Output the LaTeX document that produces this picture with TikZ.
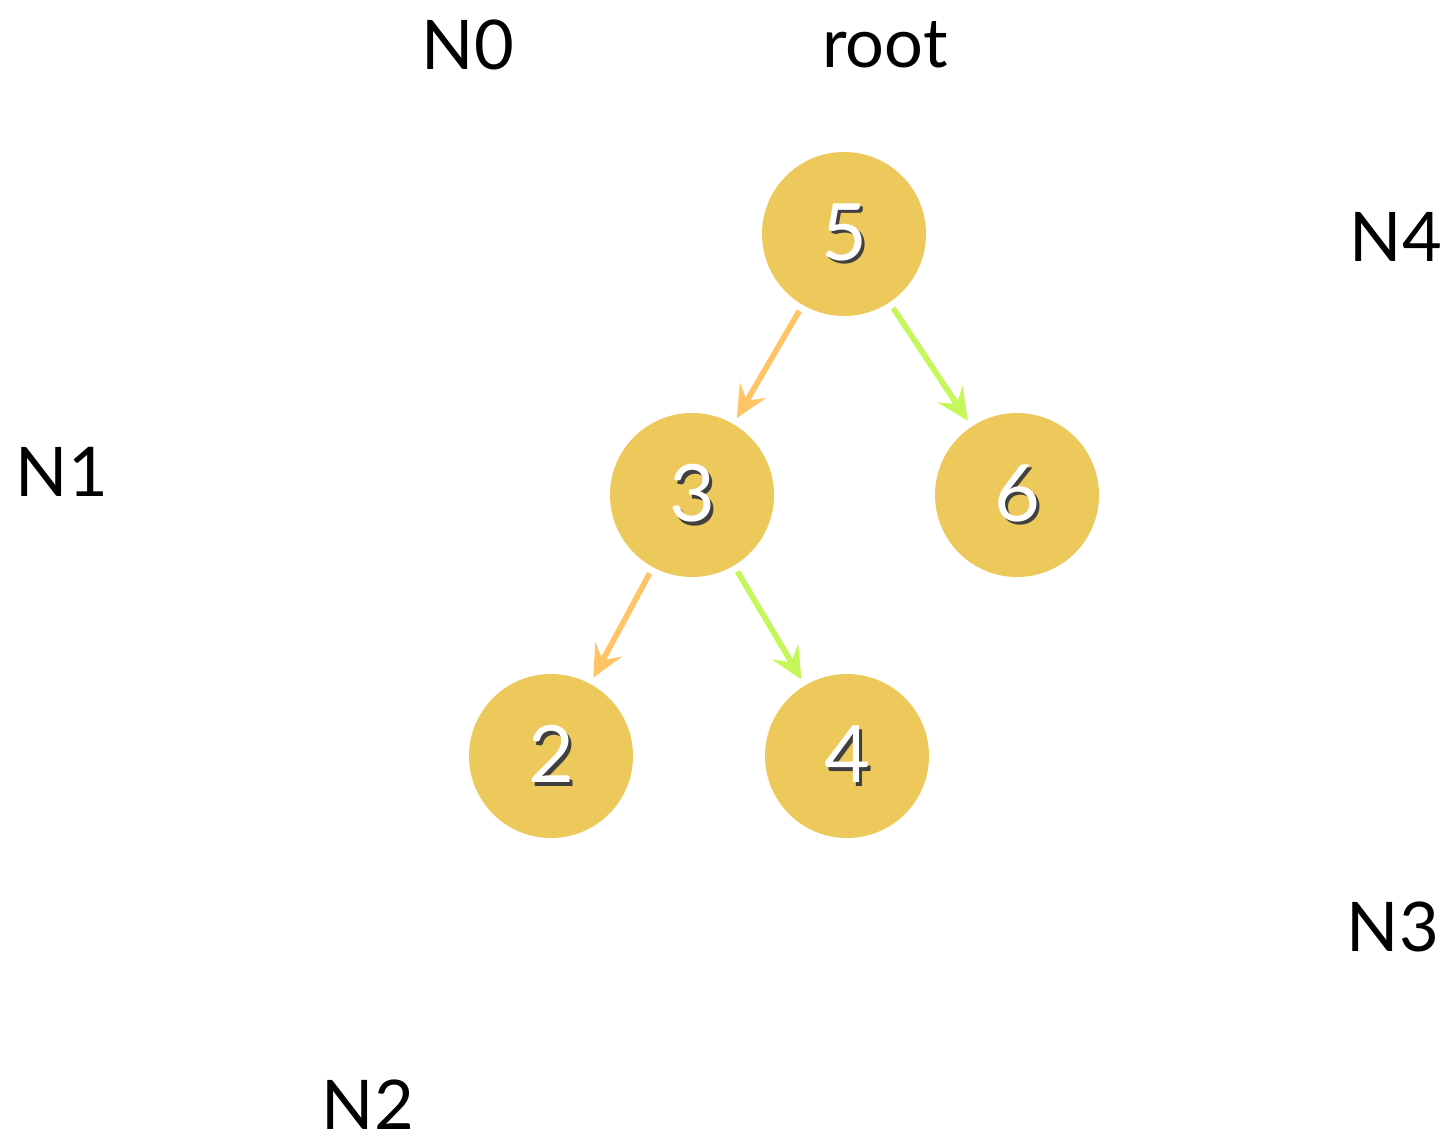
\documentclass[tikz,border=0pt]{standalone}
\usepackage{fontspec}
\setmainfont{Lato}
\usepackage{tikz}
\usetikzlibrary{arrows.meta}

\definecolor{nodegold}{HTML}{ECC95A}
\definecolor{leftarr}{HTML}{FFC466}
\definecolor{rightarr}{HTML}{C6F75A}

\newcommand{\shdigit}[1]{\makebox[0pt][l]{\hspace{1.1pt}\raisebox{-1.1pt}{\color{black!75}#1}}{\color{white}#1}}

\tikzset{
  key/.style={circle, fill=nodegold, minimum size=1.64cm, inner sep=0pt, outer sep=0.07cm,
    font=\fontsize{22.5}{24}\selectfont},
  tag/.style={font=\fontsize{19.5}{22}\selectfont, inner sep=0pt},
  lft/.style={draw=leftarr, line width=1.6pt, -{Stealth[length=3.2mm, width=3mm, inset=1.2mm]}},
  rgt/.style={draw=rightarr, line width=1.6pt, -{Stealth[length=3.2mm, width=3mm, inset=1.2mm]}}
}

\begin{document}
\begin{tikzpicture}
\useasboundingbox (0,0) rectangle (14.44,-11.44);

\node [key] (k5) at (8.44,-2.34) {\shdigit{5}};
\node [key] (k3) at (6.92,-4.95) {\shdigit{3}};
\node [key] (k6) at (10.17,-4.95) {\shdigit{6}};
\node [key] (k2) at (5.51,-7.56) {\shdigit{2}};
\node [key] (k4) at (8.47,-7.56) {\shdigit{4}};

\node [tag] (n0) at (4.68,-0.45) {N0};
\node [tag] (rt) at (8.85,-0.45) {root};
\node [tag] (n4) at (13.96,-2.37) {N4};
\node [tag] (n1) at (0.62,-4.72) {N1};
\node [tag] (n3) at (13.93,-9.27) {N3};
\node [tag] (n2) at (3.68,-11.05) {N2};

\draw [lft] (k5)--(k3);
\draw [rgt] (k5)--(k6);
\draw [lft] (k3)--(k2);
\draw [rgt] (k3)--(k4);
\end{tikzpicture}
\end{document}
